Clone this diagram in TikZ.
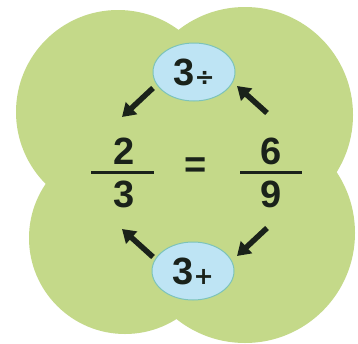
\documentclass[tikz,border=0pt]{standalone}
\usepackage{fontspec}
\setmainfont{Liberation Sans}
\newfontfamily\opfont{DejaVu Sans}
\usetikzlibrary{arrows.meta,shapes.geometric}
\definecolor{leaf}{RGB}{196,217,137}
\definecolor{bubble}{RGB}{190,228,244}
\definecolor{bubbleedge}{RGB}{125,195,185}
\definecolor{ink}{RGB}{26,34,26}
\tikzset{
  lobe/.style={fill=leaf},
  opbubble/.style={ellipse, fill=bubble, draw=bubbleedge, line width=1pt,
    minimum width=82pt, minimum height=58pt, inner sep=0pt,
    font=\fontsize{38}{38}\selectfont\bfseries, text=ink},
  num/.style={font=\fontsize{38}{38}\selectfont\bfseries, text=ink, inner sep=0pt},
  fracbar/.style={line width=3pt, draw=ink},
  flow/.style={-{Triangle[length=13pt,width=16pt]}, line width=5.5pt, draw=ink},
}
\newcommand{\opsign}[1]{{\opfont\bfseries\fontsize{24}{24}\selectfont #1}}
\begin{document}
\begin{tikzpicture}[x=1pt,y=-1pt]
\useasboundingbox (0,0) rectangle (358,343);
\fill[white] (0,0) rectangle (358,343);
% four overlapping lobes
\fill[lobe] (118,112) circle[radius=102];
\fill[lobe] (245,115) circle[radius=108];
\fill[lobe] (125,238) circle[radius=96];
\fill[lobe] (245,233) circle[radius=110];
% operation bubbles
\node[opbubble] (top) at (194,72) {3\opsign{÷}};
\node[opbubble] (bot) at (193,271) {3\opsign{+}};
% fractions
\node[num] (n1) at (124,151) {2};
\node[num] (d1) at (124,194) {3};
\draw[fracbar] (91,172) -- (154,172);
\node[num] (eq) at (196,168) {=};
\node[num] (n2) at (271,151) {6};
\node[num] (d2) at (271,194) {9};
\draw[fracbar] (240,172) -- (302,172);
% arrows
\coordinate (a1s) at (153,88);  \coordinate (a1e) at (122,117);
\coordinate (a2s) at (267,113); \coordinate (a2e) at (237,86);
\coordinate (a3s) at (153,257); \coordinate (a3e) at (122,229);
\coordinate (a4s) at (267,228); \coordinate (a4e) at (237,256);
\draw[flow] (a1s) -- (a1e);
\draw[flow] (a2s) -- (a2e);
\draw[flow] (a3s) -- (a3e);
\draw[flow] (a4s) -- (a4e);
\end{tikzpicture}
\end{document}
